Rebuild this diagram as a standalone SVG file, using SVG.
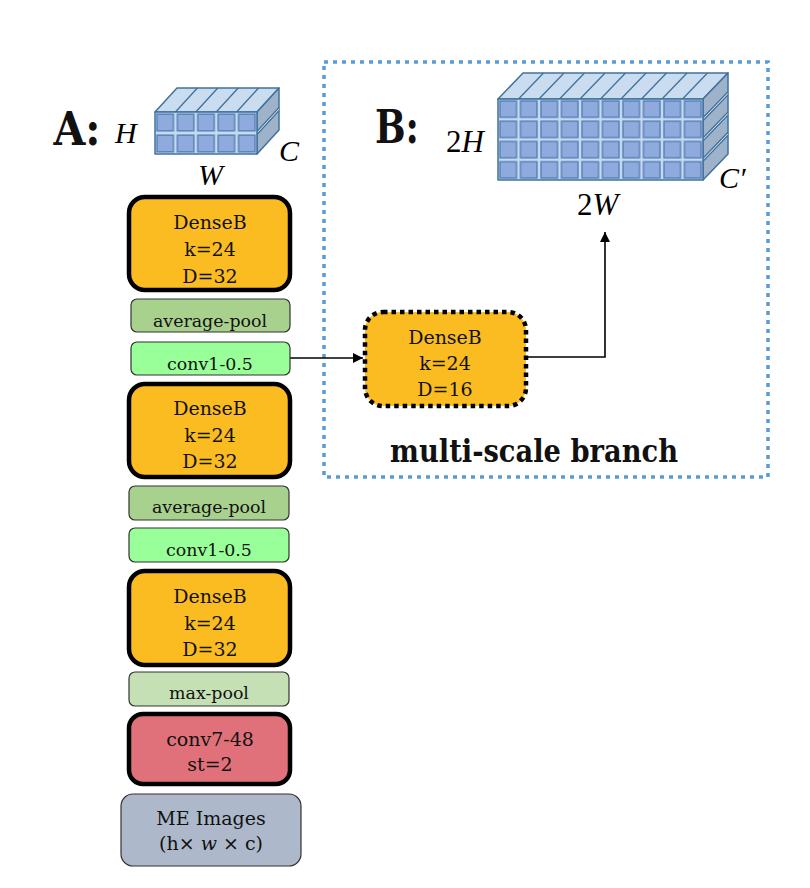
<svg xmlns="http://www.w3.org/2000/svg" width="810" height="888" viewBox="0 0 810 888">
<style>
  .t { font-family: "DejaVu Serif", "Liberation Serif", serif; fill: #111; text-anchor: middle; }
  .dense { fill: #FBBC21; stroke: #000; stroke-width: 4.5; }
  .thin { stroke: #333; stroke-width: 1.2; }
  .math { font-family: "Liberation Serif", "DejaVu Serif", serif; font-style: italic; fill: #000; }
  .face { stroke: #41719C; stroke-width: 1.5; stroke-linejoin: round; }
  .edge { stroke: #41719C; stroke-width: 1.3; fill: none; }
  .edgeL { stroke: #C9DAEE; stroke-width: 1; fill: none; }
  .conn { stroke: #000; stroke-width: 1.6; fill: none; }
</style>
<defs>
  <pattern id="cellA" patternUnits="userSpaceOnUse" x="155" y="112" width="20.4" height="21">
    <rect x="0" y="0" width="20.4" height="21" fill="#C5D9EF"/>
    <rect x="2" y="2.2" width="16.4" height="16.6" fill="#8FAADC" stroke="#5B83BA" stroke-width="1.5"/>
  </pattern>
  <pattern id="cellB" patternUnits="userSpaceOnUse" x="498" y="99" width="20.5" height="20.25">
    <rect x="0" y="0" width="20.5" height="20.25" fill="#C5D9EF"/>
    <rect x="2" y="2" width="16.5" height="16.25" fill="#8FAADC" stroke="#5B83BA" stroke-width="1.5"/>
  </pattern>
  <marker id="arr" viewBox="0 0 10 10" refX="10" refY="5" markerWidth="10" markerHeight="10" markerUnits="userSpaceOnUse" orient="auto">
    <path d="M0,0 L10,5 L0,10 Z" fill="#000"/>
  </marker>
</defs>
<rect width="810" height="888" fill="#fff"/>

<!-- Multi-scale branch frame -->
<g id="branch-frame">
  <rect x="324" y="62" width="444" height="415" fill="none" stroke="#5B9BD5" stroke-width="3.5" stroke-dasharray="4 5"/>
  <text class="t" x="534" y="462" font-size="32" font-weight="bold" textLength="288" lengthAdjust="spacingAndGlyphs">multi-scale branch</text>
  <text class="t" x="397" y="143" font-size="46" font-weight="bold" textLength="44" lengthAdjust="spacingAndGlyphs">B:</text>
</g>

<!-- Tensor A -->
<g id="tensorA">
  <text class="t" x="77" y="145" font-size="46" font-weight="bold" textLength="47" lengthAdjust="spacingAndGlyphs">A:</text>
  <polygon class="face" points="155,112 257,112 279,88 177,88" fill="#C9DCF0"/>
  <path class="edge" d="M175.4,112 L197.4,88 M195.8,112 L217.8,88 M216.2,112 L238.2,88 M236.6,112 L258.6,88"/>
  <polygon class="face" points="257,112 279,88 279,130 257,154" fill="#9EB3C9"/>
  <path class="edge" d="M257,131.5 L279,107.5 M257,134.5 L279,110.5"/>
  <path class="edgeL" d="M257,133 L279,109"/>
  <rect x="155" y="112" width="102" height="42" fill="url(#cellA)" class="face"/>
  <text class="math" x="115" y="143" font-size="30">H</text>
  <text class="math" x="198" y="185" font-size="30">W</text>
  <text class="math" x="279" y="161" font-size="30">C</text>
</g>

<!-- Tensor B -->
<g id="tensorB">
  <polygon class="face" points="498,99 703,99 728,73 523,73" fill="#C9DCF0"/>
  <path class="edge" d="M518.5,99 L543.5,73 M539,99 L564,73 M559.5,99 L584.5,73 M580,99 L605,73 M600.5,99 L625.5,73 M621,99 L646,73 M641.5,99 L666.5,73 M662,99 L687,73 M682.5,99 L707.5,73"/>
  <polygon class="face" points="703,99 728,73 728,154 703,180" fill="#9EB3C9"/>
  <path class="edge" d="M703,117.8 L728,91.8 M703,120.8 L728,94.8 M703,138 L728,112 M703,141 L728,115 M703,158.3 L728,132.3 M703,161.3 L728,135.3"/>
  <path class="edgeL" d="M703,119.3 L728,93.3 M703,139.5 L728,113.5 M703,159.8 L728,133.8"/>
  <rect x="498" y="99" width="205" height="81" fill="url(#cellB)" class="face"/>
  <text class="math" x="446" y="152" font-size="31"><tspan font-style="normal">2</tspan>H</text>
  <text class="math" x="577" y="215" font-size="31"><tspan font-style="normal">2</tspan>W</text>
  <text class="math" x="719" y="188" font-size="30">C′</text>
</g>

<!-- Connectors -->
<g id="connectors">
  <line class="conn" x1="290" y1="358" x2="363" y2="358" marker-end="url(#arr)"/>
  <path class="conn" d="M526,357 H605 V232" marker-end="url(#arr)"/>
</g>

<!-- Main column nodes -->
<g id="dense1">
  <rect class="dense" x="129" y="197" width="161" height="93" rx="16"/>
  <text class="t" x="210" y="229" font-size="19">DenseB</text>
  <text class="t" x="210" y="256" font-size="19">k=24</text>
  <text class="t" x="210" y="283" font-size="19">D=32</text>
</g>
<g id="avgpool1">
  <rect class="thin" x="131" y="299" width="159" height="33" rx="6" fill="#A9D18E"/>
  <text class="t" x="210" y="327" font-size="17.4">average-pool</text>
</g>
<g id="conv1a">
  <rect class="thin" x="131" y="342" width="159" height="33" rx="6" fill="#99FF99"/>
  <text class="t" x="210" y="370" font-size="17.4">conv1-0.5</text>
</g>
<g id="dense2">
  <rect class="dense" x="129" y="384" width="161" height="93" rx="16"/>
  <text class="t" x="210" y="415" font-size="19">DenseB</text>
  <text class="t" x="210" y="442" font-size="19">k=24</text>
  <text class="t" x="210" y="468" font-size="19">D=32</text>
</g>
<g id="avgpool2">
  <rect class="thin" x="129" y="486" width="160" height="34" rx="6" fill="#A9D18E"/>
  <text class="t" x="209" y="513" font-size="17.4">average-pool</text>
</g>
<g id="conv1b">
  <rect class="thin" x="129" y="528" width="160" height="34" rx="6" fill="#99FF99"/>
  <text class="t" x="209" y="556" font-size="17.4">conv1-0.5</text>
</g>
<g id="dense3">
  <rect class="dense" x="129" y="571" width="161" height="94" rx="16"/>
  <text class="t" x="210" y="603" font-size="19">DenseB</text>
  <text class="t" x="210" y="630" font-size="19">k=24</text>
  <text class="t" x="210" y="656" font-size="19">D=32</text>
</g>
<g id="maxpool">
  <rect class="thin" x="129" y="672" width="160" height="34" rx="6" fill="#C5E0B4"/>
  <text class="t" x="209" y="699" font-size="17.4">max-pool</text>
</g>
<g id="conv7">
  <rect x="129" y="714" width="161" height="70" rx="14" fill="#E0717A" stroke="#000" stroke-width="4.5"/>
  <text class="t" x="210" y="746" font-size="19">conv7-48</text>
  <text class="t" x="210" y="771" font-size="19">st=2</text>
</g>
<g id="me-images">
  <rect class="thin" x="121" y="794" width="180" height="72" rx="12" fill="#ADB9CA"/>
  <text class="t" x="211" y="825" font-size="19">ME Images</text>
  <text class="t" x="211" y="850" font-size="19">(h× <tspan font-style="italic">w</tspan> × c)</text>
</g>

<!-- Branch node -->
<g id="dense-branch">
  <rect x="365" y="312" width="161" height="94" rx="18" fill="#FBBC21" stroke="#000" stroke-width="4.5" stroke-dasharray="4.5 4"/>
  <text class="t" x="445" y="344" font-size="19">DenseB</text>
  <text class="t" x="445" y="370" font-size="19">k=24</text>
  <text class="t" x="445" y="396" font-size="19">D=16</text>
</g>
</svg>
